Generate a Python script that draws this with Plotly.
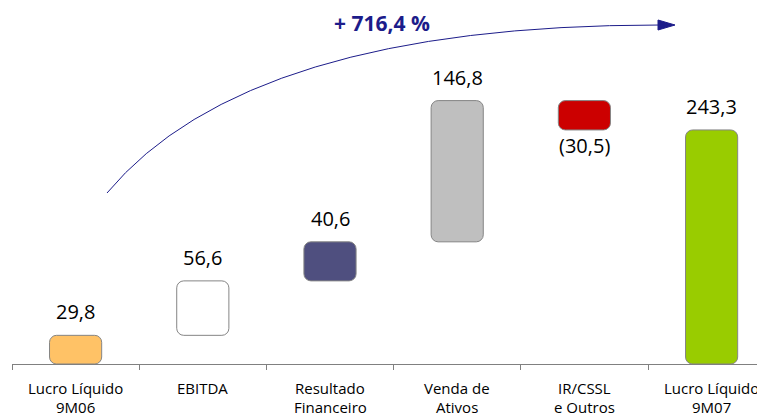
import plotly.graph_objects as go

cat_line1 = ["Lucro Líquido", "EBITDA", "Resultado", "Venda de", "IR/CSSL", "Lucro Líquido"]
cat_line2 = ["9M06", "", "Financeiro", "Ativos", "e Outros", "9M07"]
deltas = [29.8, 56.6, 40.6, 146.8, -30.5, 243.3]
is_total = [True, False, False, False, False, True]
value_labels = ["29,8", "56,6", "40,6", "146,8", "(30,5)", "243,3"]
colors = ["#FFC266", "#FFFFFF", "#4F4F7F", "#BFBFBF", "#CC0000", "#99CC00"]
growth_label = "+ 716,4 %"

# waterfall bases
bases = []
running = 0.0
for d, t in zip(deltas, is_total):
    if t:
        bases.append(0.0)
        running = d
    else:
        bases.append(running)
        running += d

# page offset (browser body margin)
OFF = 8
W, H = 765 - OFF, 414 - OFF
ML, MR, MT, MB = 12 - OFF, 0, 0, 50
PW, PH = W - ML - MR, H - MT - MB

def px(x, y):
    """reference-page pixel -> paper coords"""
    fx, fy = x - OFF, y - OFF
    return ((fx - ML) / PW, (H - MB - fy) / PH)

xs = list(range(len(categories := cat_line1)))

fig = go.Figure()
fig.add_trace(go.Bar(
    x=xs, y=deltas, base=bases, width=0.41,
    marker=dict(color=colors, line=dict(color="#858585", width=1), cornerradius=7),
    hoverinfo="skip", showlegend=False,
))

annotations = []
for i, (d, b, lab) in enumerate(zip(deltas, bases, value_labels)):
    if d >= 0:
        annotations.append(dict(x=i, y=b + d, text=lab, showarrow=False,
                                yanchor="bottom", yshift=8,
                                font=dict(size=20, color="#000000")))
    else:
        annotations.append(dict(x=i, y=b + d, text=lab, showarrow=False,
                                yanchor="top", yshift=0,
                                font=dict(size=20, color="#000000")))

# category labels (two lines)
_, y1 = px(0, 388)
_, y2 = px(0, 407)
for i, (l1, l2) in enumerate(zip(cat_line1, cat_line2)):
    annotations.append(dict(x=i, y=y1, xref="x", yref="paper", text=l1, showarrow=False,
                            yanchor="middle", font=dict(size=15, color="#000000")))
    if l2:
        annotations.append(dict(x=i, y=y2, xref="x", yref="paper", text=l2, showarrow=False,
                                yanchor="middle", font=dict(size=15, color="#000000")))

tx, ty = px(382, 23)
annotations.append(dict(x=tx, y=ty, xref="paper", yref="paper", text="<b>" + growth_label + "</b>",
                        showarrow=False, xanchor="center", yanchor="middle",
                        font=dict(size=21, color="#1C1C8A")))

p0 = px(107, 193)
p1 = px(247, 25)
p2 = px(660, 25)
curve = f"M {p0[0]},{p0[1]} Q {p1[0]},{p1[1]} {p2[0]},{p2[1]}"
a1 = px(658, 20)
a2 = px(675, 25)
a3 = px(658, 30)
head = f"M {a1[0]},{a1[1]} L {a2[0]},{a2[1]} L {a3[0]},{a3[1]} Z"

fig.update_layout(
    width=W, height=H,
    margin=dict(l=ML, r=MR, t=MT, b=MB),
    paper_bgcolor="white", plot_bgcolor="white",
    font=dict(family="Open Sans", size=14, color="#000000"),
    annotations=annotations,
    shapes=[
        dict(type="path", path=curve, xref="paper", yref="paper",
             line=dict(color="#1C1C8A", width=1)),
        dict(type="path", path=head, xref="paper", yref="paper",
             fillcolor="#1C1C8A", line=dict(color="#1C1C8A", width=1)),
    ],
    xaxis=dict(
        type="linear", range=[-0.5, -0.5 + PW / 127.2],
        tickmode="array", tickvals=xs, ticktext=[""] * len(xs),
        showgrid=False, zeroline=False, showline=True, linecolor="#808080", linewidth=1,
        ticks="",
        minor=dict(tickmode="array", tickvals=[i - 0.5 for i in range(len(xs) + 1)],
                   ticks="outside", ticklen=5, tickcolor="#808080", tickwidth=1, showgrid=False),
    ),
    yaxis=dict(range=[0, PH / 0.962], visible=False, showgrid=False, zeroline=False),
)

fig.write_html("out.html")
